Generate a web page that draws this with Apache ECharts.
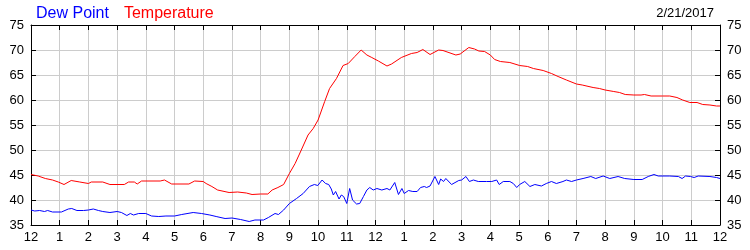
<!DOCTYPE html>
<html>
<head>
<meta charset="utf-8">
<script src="https://cdn.jsdelivr.net/npm/echarts@6/dist/echarts.min.js"></script>
<style>
html,body{margin:0;padding:0;background:#fff;}
#chart{width:750px;height:250px;}
</style>
</head>
<body>
<div id="chart"></div>
<script>
// Hours since midnight and readings (°F)
const tempHours = [0,0.25,0.5,0.75,0.95,1.15,1.4,1.7,2.0,2.1,2.5,2.75,3.25,3.4,3.6,3.7,3.85,4.5,4.65,4.9,5.5,5.7,6.0,6.1,6.3,6.5,6.9,7.2,7.5,7.7,8.0,8.25,8.4,8.6,8.8,9.0,9.2,9.4,9.65,9.83,10.0,10.23,10.4,10.64,10.87,11.05,11.28,11.5,11.7,11.87,12.1,12.4,12.56,12.9,13.25,13.45,13.65,13.9,14.2,14.35,14.8,14.95,15.25,15.45,15.6,15.8,16.0,16.15,16.35,16.68,17.02,17.3,17.5,17.84,18.13,18.36,18.65,19.0,19.2,19.58,19.8,20.0,20.3,20.5,20.7,21.0,21.25,21.37,21.6,22.0,22.25,22.5,22.7,22.95,23.2,23.4,23.65,23.88,24.0];
const tempValues = [45.1,44.8,44.3,44.0,43.6,43.1,43.9,43.6,43.3,43.6,43.6,43.1,43.1,43.6,43.6,43.2,43.8,43.8,44.0,43.2,43.2,43.8,43.7,43.3,42.7,42.0,41.5,41.6,41.4,41.1,41.2,41.2,42.0,42.5,43.1,45.3,47.3,49.8,53.0,54.3,56.0,59.7,62.3,64.3,66.9,67.3,68.7,70.0,69.0,68.5,67.8,66.8,67.2,68.5,69.3,69.5,70.1,69.1,70.0,69.9,69.0,69.2,70.5,70.2,69.8,69.7,69.0,68.1,67.7,67.5,66.9,66.7,66.3,65.9,65.3,64.7,64.0,63.2,63.0,62.5,62.3,62.0,61.7,61.5,61.1,61.0,61.0,61.1,60.8,60.8,60.8,60.5,60.0,59.5,59.5,59.1,59.0,58.8,58.8];

const dewHours = [0,0.13,0.3,0.47,0.58,0.75,1.06,1.3,1.42,1.6,1.83,2.0,2.17,2.35,2.5,2.75,3.0,3.15,3.34,3.46,3.57,3.75,4.0,4.2,4.45,4.7,5.0,5.25,5.65,5.94,6.23,6.45,6.76,7.0,7.3,7.6,7.8,8.1,8.27,8.5,8.62,8.8,9.0,9.25,9.48,9.7,9.87,9.99,10.14,10.26,10.37,10.46,10.53,10.61,10.73,10.81,10.89,11.0,11.1,11.2,11.34,11.45,11.58,11.7,11.8,11.92,12.05,12.22,12.4,12.5,12.67,12.8,12.92,13.0,13.15,13.3,13.45,13.57,13.7,13.78,13.9,14.07,14.2,14.27,14.37,14.45,14.65,14.9,15.0,15.15,15.27,15.41,15.58,15.87,15.93,16.05,16.22,16.31,16.45,16.68,16.8,16.92,17.02,17.2,17.38,17.55,17.78,17.95,18.13,18.3,18.53,18.65,18.83,19.0,19.23,19.5,19.67,19.93,20.16,20.45,20.68,21.0,21.29,21.5,21.7,21.85,22.25,22.55,22.68,22.8,22.97,23.1,23.24,23.65,23.88,24.0];
const dewValues = [38.0,37.8,37.9,37.7,37.9,37.6,37.6,38.2,38.3,37.9,37.9,38.0,38.2,37.9,37.7,37.5,37.7,37.5,36.9,37.3,37.0,37.3,37.3,36.8,36.7,36.8,36.8,37.1,37.5,37.3,37.0,36.7,36.3,36.4,36.1,35.7,36.0,36.0,36.5,37.3,37.1,38.0,39.3,40.3,41.3,42.7,43.1,42.9,44.0,43.3,43.1,42.2,41.0,41.7,40.2,41.0,40.7,39.3,42.3,40.0,39.2,39.3,40.7,42.0,42.5,42.0,42.3,42.0,42.3,42.0,43.5,41.1,42.3,41.3,41.9,41.7,41.7,42.5,42.7,42.5,42.8,44.7,43.1,44.2,43.7,44.3,43.1,43.9,44.0,44.7,43.7,44.0,43.7,43.7,44.0,43.7,44.0,43.1,43.7,43.7,43.3,42.5,43.1,43.7,42.7,43.1,42.8,43.3,43.7,43.3,43.7,44.0,43.7,44.0,44.3,44.7,44.3,44.8,44.3,44.7,44.3,44.1,44.1,44.7,45.1,44.8,44.8,44.7,44.3,44.8,44.7,44.5,44.8,44.7,44.5,44.3];

const hourTickLabels = ['12','1','2','3','4','5','6','7','8','9','10','11','12','1','2','3','4','5','6','7','8','9','10','11','12'];
const yMin = 35, yMax = 75, yStep = 5;
const dateText = '2/21/2017';

const zip = (a, b) => a.map((x, i) => [x, b[i]]);
const font = 'Arial, "Liberation Sans", sans-serif';

const chart = echarts.init(document.getElementById('chart'), null, {renderer: 'canvas'});
chart.setOption({
  animation: false,
  backgroundColor: '#fff',
  textStyle: {fontFamily: font},
  title: {
    text: dateText, right: 31, top: 2,
    textStyle: {fontSize: 13, fontWeight: 'normal', color: '#000', fontFamily: font}
  },
  legend: {
    left: 26, top: 1, icon: 'none', itemWidth: 0, itemHeight: 10, itemGap: 10,
    selectedMode: false,
    textStyle: {fontSize: 16, fontFamily: font},
    data: [
      {name: 'Dew Point', textStyle: {color: '#0000ff'}},
      {name: 'Temperature', textStyle: {color: '#ff0000'}}
    ]
  },
  grid: {left: 31, right: 30, top: 25, bottom: 25, containLabel: false},
  xAxis: [{
    type: 'value', min: 0, max: 24, interval: 1, position: 'bottom',
    axisLine: {onZero: false, lineStyle: {color: '#000', width: 1}},
    axisTick: {inside: true, length: 5, lineStyle: {color: '#000'}},
    axisLabel: {margin: 6, fontSize: 13, color: '#000', fontFamily: font,
      formatter: v => hourTickLabels[Math.round(v)]},
    splitLine: {show: true, lineStyle: {color: '#cccccc', width: 1}}
  }, {
    type: 'value', min: 0, max: 24, interval: 1, position: 'top',
    axisLine: {onZero: false, lineStyle: {color: '#000', width: 1}},
    axisTick: {inside: true, length: 5, lineStyle: {color: '#000'}},
    axisLabel: {show: false}, splitLine: {show: false}
  }],
  yAxis: [{
    type: 'value', min: yMin, max: yMax, interval: yStep, position: 'left',
    axisLine: {show: true, onZero: false, lineStyle: {color: '#000', width: 1}},
    axisTick: {show: true, inside: true, length: 5, lineStyle: {color: '#000'}},
    axisLabel: {margin: 7, fontSize: 13, color: '#000', fontFamily: font},
    splitLine: {show: true, lineStyle: {color: '#cccccc', width: 1}}
  }, {
    type: 'value', min: yMin, max: yMax, interval: yStep, position: 'right',
    axisLine: {show: true, onZero: false, lineStyle: {color: '#000', width: 1}},
    axisTick: {show: true, inside: true, length: 5, lineStyle: {color: '#000'}},
    axisLabel: {margin: 7, fontSize: 13, color: '#000', fontFamily: font},
    splitLine: {show: false}
  }],
  series: [{
    name: 'Dew Point', type: 'line', showSymbol: false, symbol: 'none',
    data: zip(dewHours, dewValues),
    lineStyle: {color: '#0000ff', width: 1}, itemStyle: {color: '#0000ff'}
  }, {
    name: 'Temperature', type: 'line', showSymbol: false, symbol: 'none',
    data: zip(tempHours, tempValues),
    lineStyle: {color: '#ff0000', width: 1}, itemStyle: {color: '#ff0000'}
  }]
});
</script>
</body>
</html>
